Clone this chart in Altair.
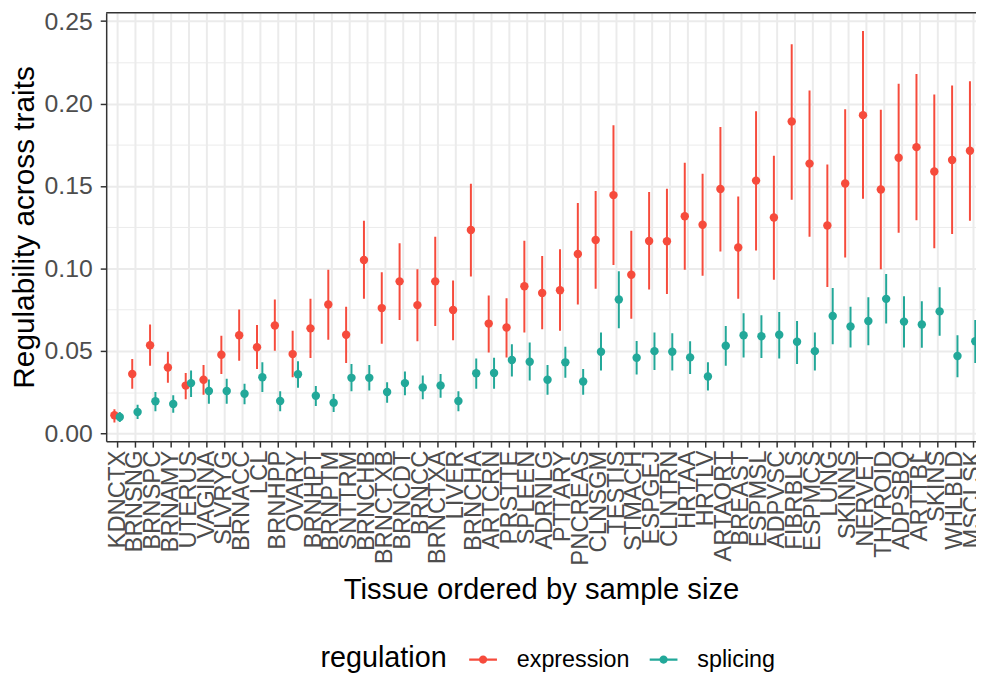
import altair as alt
import pandas as pd

tissues = ["KDNCTX", "BRNSNG", "BRNSPC", "BRNAMY", "UTERUS", "VAGINA", "SLVRYG", "BRNACC", "LCL",
           "BRNHPP", "OVARY", "BRNHPT", "BRNPTM", "SNTTRM", "BRNCHB", "BRNCTXB", "BRNCDT", "BRNCC",
           "BRNCTXA", "LIVER", "BRNCHA", "ARTCRN", "PRSTTE", "SPLEEN", "ADRNLG", "PTTARY", "PNCREAS",
           "CLNSGM", "TESTIS", "STMACH", "ESPGEJ", "CLNTRN", "HRTAA", "HRTLV", "ARTAORT", "BREAST",
           "ESPMSL", "ADPVSC", "FIBRBLS", "ESPMCS", "LUNG", "SKINNS", "NERVET", "THYROID", "ADPSBQ",
           "ARTTBL", "SKINS", "WHLBLD", "MSCLSK"]

expr_val = [0.0110, 0.0360, 0.0535, 0.0400, 0.0290, 0.0325, 0.0477, 0.0595, 0.0523, 0.0655,
            0.0481, 0.0637, 0.0782, 0.0598, 0.1052, 0.0760, 0.0922, 0.0778, 0.0922, 0.0748,
            0.1233, 0.0666, 0.0642, 0.0892, 0.0852, 0.0868, 0.1088, 0.1173, 0.1445, 0.0962,
            0.1167, 0.1165, 0.1317, 0.1265, 0.1482, 0.1127, 0.1533, 0.1309, 0.1891, 0.1636,
            0.1261, 0.1515, 0.1930, 0.1479, 0.1672, 0.1736, 0.1588, 0.1658, 0.1714]
expr_lo = [0.0066, 0.0271, 0.0411, 0.0307, 0.0207, 0.0235, 0.0361, 0.0441, 0.0391, 0.0501,
           0.0341, 0.0457, 0.0568, 0.0427, 0.0816, 0.0544, 0.0688, 0.0559, 0.0652, 0.0565,
           0.0952, 0.0491, 0.0461, 0.0612, 0.0631, 0.0622, 0.0782, 0.0878, 0.1022, 0.0696,
           0.0872, 0.0846, 0.0992, 0.0956, 0.1103, 0.0816, 0.1109, 0.0932, 0.1417, 0.1193,
           0.0888, 0.1067, 0.1423, 0.0996, 0.1217, 0.1293, 0.1123, 0.1209, 0.1289]
expr_hi = [0.0147, 0.0451, 0.0661, 0.0495, 0.0367, 0.0415, 0.0592, 0.0752, 0.0658, 0.0812,
           0.0622, 0.0816, 0.0992, 0.0768, 0.1289, 0.0977, 0.1153, 0.0996, 0.1193, 0.0928,
           0.1514, 0.0836, 0.0820, 0.1169, 0.1076, 0.1117, 0.1397, 0.1470, 0.1868, 0.1229,
           0.1464, 0.1483, 0.1642, 0.1574, 0.1858, 0.1437, 0.1954, 0.1684, 0.2360, 0.2079,
           0.1630, 0.1965, 0.2440, 0.1963, 0.2121, 0.2179, 0.2055, 0.2109, 0.2135]

spl_val = [0.0100, 0.0130, 0.0195, 0.0179, 0.0305, 0.0257, 0.0257, 0.0241, 0.0341, 0.0197,
           0.0359, 0.0229, 0.0186, 0.0337, 0.0337, 0.0251, 0.0305, 0.0279, 0.0291, 0.0197,
           0.0365, 0.0367, 0.0445, 0.0435, 0.0325, 0.0431, 0.0315, 0.0495, 0.0812, 0.0459,
           0.0499, 0.0495, 0.0461, 0.0345, 0.0532, 0.0595, 0.0589, 0.0598, 0.0556, 0.0499,
           0.0712, 0.0648, 0.0682, 0.0816, 0.0678, 0.0661, 0.0740, 0.0469, 0.0559]
spl_lo = [0.0070, 0.0087, 0.0135, 0.0126, 0.0221, 0.0180, 0.0180, 0.0177, 0.0251, 0.0135,
          0.0277, 0.0167, 0.0130, 0.0255, 0.0261, 0.0186, 0.0231, 0.0207, 0.0216, 0.0135,
          0.0271, 0.0271, 0.0345, 0.0321, 0.0235, 0.0337, 0.0235, 0.0381, 0.0637, 0.0357,
          0.0385, 0.0381, 0.0361, 0.0261, 0.0411, 0.0461, 0.0457, 0.0455, 0.0421, 0.0381,
          0.0541, 0.0521, 0.0535, 0.0667, 0.0521, 0.0520, 0.0592, 0.0341, 0.0427]
spl_hi = [0.0130, 0.0174, 0.0251, 0.0231, 0.0381, 0.0327, 0.0331, 0.0301, 0.0431, 0.0255,
          0.0437, 0.0287, 0.0239, 0.0421, 0.0415, 0.0311, 0.0375, 0.0351, 0.0361, 0.0255,
          0.0455, 0.0459, 0.0541, 0.0551, 0.0415, 0.0525, 0.0391, 0.0612, 0.0983, 0.0561,
          0.0612, 0.0608, 0.0559, 0.0431, 0.0652, 0.0728, 0.0716, 0.0736, 0.0682, 0.0612,
          0.0882, 0.0768, 0.0826, 0.0966, 0.0832, 0.0802, 0.0886, 0.0595, 0.0688]

groups = ["expression", "splicing"]
colors = ["#F64B3C", "#22A899"]
y_major = [0.0, 0.05, 0.10, 0.15, 0.20, 0.25]
y_minor = [0.025, 0.075, 0.125, 0.175, 0.225]

FONT = "Liberation Sans"
W, H = 877, 432
DODGE = 0.15

rows = []
for i, t in enumerate(tissues):
    rows.append(dict(idx=i, xpos=i - DODGE, tissue=t, regulation=groups[0],
                     value=expr_val[i], lo=expr_lo[i], hi=expr_hi[i]))
    rows.append(dict(idx=i, xpos=i + DODGE, tissue=t, regulation=groups[1],
                     value=spl_val[i], lo=spl_lo[i], hi=spl_hi[i]))
df = pd.DataFrame(rows)

label_expr = "[" + ",".join("'%s'" % t for t in tissues) + "][datum.value]"

x_scale = alt.Scale(domain=[-0.612, 48.19], nice=False, zero=False, padding=0)
y_scale = alt.Scale(domain=[-0.0047, 0.2551], nice=False, zero=False, padding=0)

x_axis = alt.Axis(values=list(range(len(tissues))), labelExpr=label_expr, labelAngle=270,
                  labelFont=FONT, labelFontSize=24, labelColor="#4D4D4D", labelPadding=3,
                  labelOverlap=False, labelFlush=False,
                  tickSize=6, tickColor="#333333", tickWidth=1.5,
                  domainColor="#333333", domainWidth=1.5,
                  grid=True, gridColor="#EBEBEB", gridWidth=2,
                  title="Tissue ordered by sample size", titleFont=FONT, titleFontSize=29.5,
                  titleFontWeight="normal", titleColor="black", titlePadding=11)

y_axis_major = alt.Axis(values=y_major, format=".2f", orient="left",
                        labelFont=FONT, labelFontSize=25, labelColor="#4D4D4D", labelPadding=8,
                        tickSize=6, tickColor="#333333", tickWidth=1.5,
                        domainColor="#333333", domainWidth=1.5,
                        grid=True, gridColor="#EBEBEB", gridWidth=2,
                        title="Regulability across traits", titleFont=FONT, titleFontSize=30,
                        titleFontWeight="normal", titleColor="black", titlePadding=5)

y_axis_minor = alt.Axis(values=y_minor, orient="right", labels=False, ticks=False, domain=False,
                        grid=True, gridColor="#EBEBEB", gridWidth=1, title=None)

# legend glyph: horizontal line with a dot (both sub-paths clockwise so the union is filled)
sym_path = ("M-1,-0.075 L1,-0.075 L1,0.075 L-1,0.075 Z "
            "M-0.3,0 A0.3,0.3 0 1,1 0.3,0 A0.3,0.3 0 1,1 -0.3,0 Z")

legend = alt.Legend(title="regulation", orient="none", legendX=216, legendY=638,
                    direction="horizontal", titleOrient="left",
                    titleFont=FONT, titleFontSize=29, titleFontWeight="normal", titleColor="black",
                    titlePadding=22,
                    labelFont=FONT, labelFontSize=23.5, labelColor="black", labelOffset=20,
                    columnPadding=20, symbolType=sym_path, symbolSize=784,
                    symbolStrokeWidth=0, symbolOpacity=1)

color_scale = alt.Scale(domain=groups, range=colors)

base = alt.Chart(df)

bars = base.mark_bar(size=2, clip=True).encode(
    x=alt.X("xpos:Q", scale=x_scale, axis=x_axis),
    y=alt.Y("lo:Q", scale=y_scale, axis=y_axis_minor),
    y2="hi:Q",
    color=alt.Color("regulation:N", scale=color_scale, legend=legend),
)

points = base.mark_circle(size=72, opacity=1, clip=True).encode(
    x=alt.X("xpos:Q", scale=x_scale, axis=x_axis),
    y=alt.Y("value:Q", scale=y_scale, axis=y_axis_major),
    color=alt.Color("regulation:N", scale=color_scale, legend=legend),
)

top_border = alt.Chart(pd.DataFrame({"a": [0]})).mark_rule(
    color="#333333", strokeWidth=1.5
).encode(x=alt.value(0), x2=alt.value(W), y=alt.value(0))

chart = alt.layer(bars, points, top_border).resolve_axis(y="independent").properties(
    width=W, height=H,
    autosize=alt.AutoSizeParams(type="none"),
    padding={"left": 99, "top": 2, "right": 0, "bottom": 233},
    background="white",
).configure_view(stroke="transparent")

chart.save("out.html", embed_options={"renderer": "svg", "actions": False})
